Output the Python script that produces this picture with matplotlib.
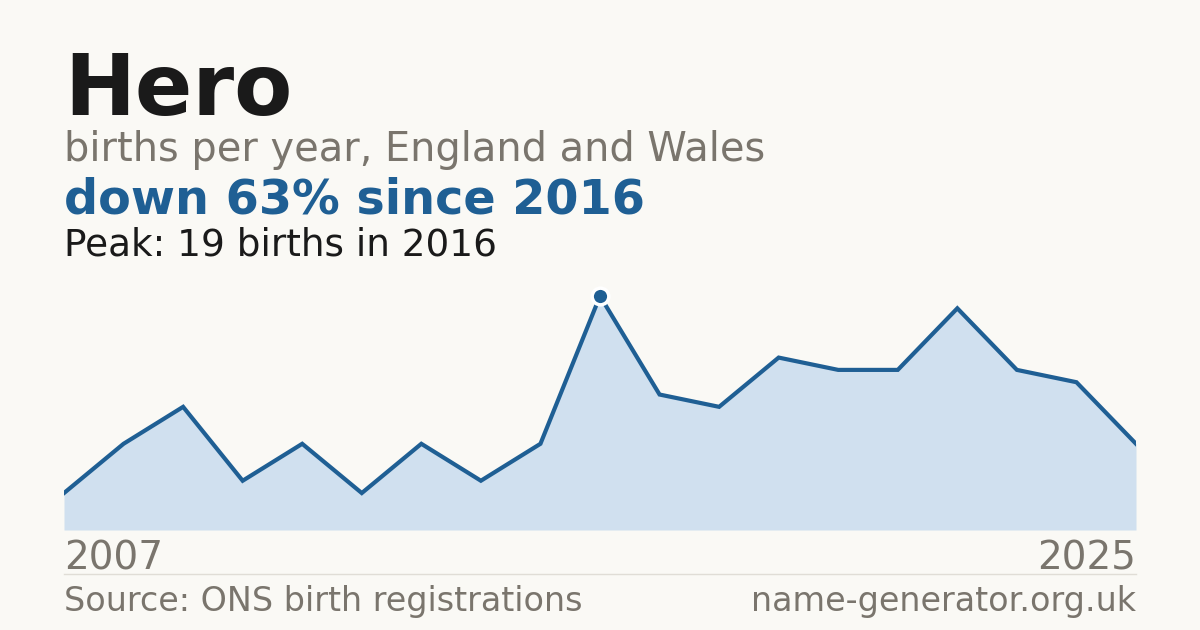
import matplotlib.pyplot as plt
from matplotlib.lines import Line2D

plt.rcParams["font.family"] = "DejaVu Sans"

years = list(range(2007, 2026))
births = [3, 7, 10, 4, 7, 3, 7, 4, 7, 19, 11, 10, 14, 13, 13, 18, 13, 12, 7]

peak_year = 2016
peak_value = 19

bg = "#faf9f5"
blue = "#1f5f94"
fill_blue = "#d0e0ef"
grey = "#7a756d"
dark = "#1a1a1a"

W, H = 1200, 630
fig = plt.figure(figsize=(12, 6.3), dpi=100, facecolor=bg)

def fy(py):
    # pixel row (from top) to figure fraction
    return 1 - py / H

# chart area
ax = fig.add_axes([64 / W, fy(530), (1136 - 64) / W, (530 - 296) / H])
ax.set_facecolor(bg)
ax.fill_between(years, births, 0, color=fill_blue, lw=0)
ax.plot(years, births, color=blue, lw=3, solid_joinstyle="miter")
ax.plot([peak_year], [peak_value], "o", ms=12, color=blue, mec="white", mew=2.5,
        clip_on=False, zorder=5)
ax.set_xlim(years[0], years[-1])
ax.set_ylim(0, peak_value)
ax.axis("off")

# header text
fig.text(64 / W, fy(115), "Hero", fontsize=61, fontweight="bold", color=dark, va="baseline")
fig.text(64 / W, fy(161), "births per year, England and Wales", fontsize=28.7, color=grey, va="baseline")
fig.text(64 / W, fy(214), "down 63% since 2016", fontsize=34.4, fontweight="bold", color=blue, va="baseline")
fig.text(64 / W, fy(255), "Peak: 19 births in 2016", fontsize=26.9, color=dark, va="baseline")

# year labels
fig.text(64 / W, fy(570), str(years[0]), fontsize=28, color=grey, va="baseline")
fig.text(1136 / W, fy(570), str(years[-1]), fontsize=28, color=grey, va="baseline", ha="right")

# separator
fig.add_artist(Line2D([64 / W, 1136 / W], [fy(574), fy(574)], color="#e0ddd6", lw=1))

# footer
fig.text(64 / W, fy(611), "Source: ONS birth registrations", fontsize=24, color=grey, va="baseline")
fig.text(1136 / W, fy(611), "name-generator.org.uk", fontsize=24, color=grey, va="baseline", ha="right")

plt.savefig("out.png", dpi=100, facecolor=bg)
